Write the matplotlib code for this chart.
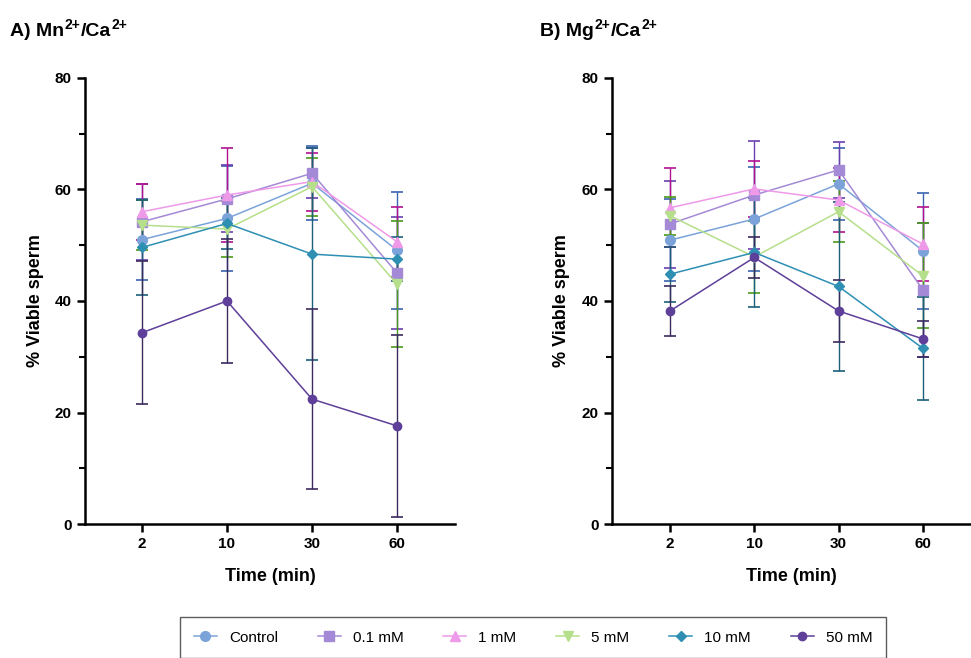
import matplotlib
matplotlib.use("Agg")
import matplotlib.pyplot as plt
from matplotlib.ticker import MultipleLocator

plt.rcParams["font.family"] = ["Liberation Sans", "DejaVu Sans"]

times = ["2", "10", "30", "60"]
groups = ["Control", "0.1 mM", "1 mM", "5 mM", "10 mM", "50 mM"]

# panel A: Mn2+/Ca2+
mn_mean = {
    "Control": [51.0, 54.8, 61.1, 49.1],
    "0.1 mM": [54.2, 58.3, 62.9, 45.0],
    "1 mM": [56.0, 59.0, 61.4, 50.6],
    "5 mM": [53.6, 52.9, 60.5, 43.0],
    "10 mM": [49.6, 53.9, 48.4, 47.5],
    "50 mM": [34.3, 40.0, 22.4, 17.6],
}
mn_sd = {
    "Control": [7.2, 9.4, 6.6, 10.5],
    "0.1 mM": [6.8, 6.0, 4.5, 10.0],
    "1 mM": [5.0, 8.4, 5.2, 6.3],
    "5 mM": [4.5, 5.0, 5.2, 11.3],
    "10 mM": [8.5, 4.5, 19.0, 4.0],
    "50 mM": [12.8, 11.2, 16.1, 16.3],
}

# panel B: Mg2+/Ca2+
mg_mean = {
    "Control": [50.9, 54.7, 61.0, 49.0],
    "0.1 mM": [53.8, 59.0, 63.5, 42.0],
    "1 mM": [56.7, 60.1, 58.1, 50.2],
    "5 mM": [55.3, 47.9, 56.0, 44.5],
    "10 mM": [44.8, 48.7, 42.6, 31.5],
    "50 mM": [38.2, 47.8, 38.2, 33.2],
}
mg_sd = {
    "Control": [7.3, 9.3, 6.4, 10.4],
    "0.1 mM": [7.8, 9.6, 5.0, 12.0],
    "1 mM": [7.1, 5.0, 5.8, 6.7],
    "5 mM": [3.4, 6.5, 5.5, 9.4],
    "10 mM": [4.9, 9.7, 15.1, 9.2],
    "50 mM": [4.5, 3.7, 5.5, 3.2],
}

colors = {
    "Control": "#7ba3d9",
    "0.1 mM": "#a48ad6",
    "1 mM": "#ee9ae8",
    "5 mM": "#b5df8a",
    "10 mM": "#2e8fb3",
    "50 mM": "#5e3f99",
}
err_colors = {
    "Control": "#3a64b0",
    "0.1 mM": "#6a3fb0",
    "1 mM": "#b0128f",
    "5 mM": "#4a9a1a",
    "10 mM": "#1b5f7a",
    "50 mM": "#3b2a5e",
}
markers = {"Control": "o", "0.1 mM": "s", "1 mM": "^", "5 mM": "v", "10 mM": "D", "50 mM": "o"}
msizes = {"Control": 7, "0.1 mM": 7, "1 mM": 7, "5 mM": 7, "10 mM": 5, "50 mM": 6}


def draw(ax, means, sds, xlim):
    x = list(range(len(times)))
    handles = []
    for g in groups:
        ax.errorbar(x, means[g], yerr=sds[g], fmt="none", ecolor=err_colors[g],
                    elinewidth=1, capsize=4, capthick=1.2, zorder=2)
        h, = ax.plot(x, means[g], color=colors[g], marker=markers[g], ms=msizes[g],
                     lw=1.1, zorder=3, label=g)
        handles.append(h)
    ax.set_xlim(*xlim)
    ax.set_ylim(0, 80)
    ax.set_xticks(x)
    ax.set_xticklabels(times)
    ax.yaxis.set_major_locator(MultipleLocator(20))
    ax.yaxis.set_minor_locator(MultipleLocator(10))
    for s in ["top", "right"]:
        ax.spines[s].set_visible(False)
    for s in ["left", "bottom"]:
        ax.spines[s].set_linewidth(1.8)
    ax.tick_params(axis="both", which="major", direction="out", length=6, width=1.8,
                   labelsize=11)
    ax.tick_params(axis="y", which="minor", direction="out", length=4, width=1.5)
    for lbl in ax.get_xticklabels() + ax.get_yticklabels():
        lbl.set_fontweight("bold")
    ax.set_xlabel("Time (min)", fontsize=13, fontweight="bold", labelpad=12)
    ax.set_ylabel("% Viable sperm", fontsize=13, fontweight="bold", labelpad=8)
    return handles


def ion_title(fig, x, y, pieces):
    # alternate normal / superscript pieces on a shared baseline
    renderer = fig.canvas.get_renderer()
    W, H = fig.bbox.width, fig.bbox.height
    for i, p in enumerate(pieces):
        sup = i % 2 == 1
        t = fig.text(x, y + (7.5 / H if sup else 0), p, fontsize=10 if sup else 14,
                     fontweight="bold", va="baseline")
        bb = t.get_window_extent(renderer)
        x = bb.x1 / W + 0.5 / W


fig = plt.figure(figsize=(9.71, 6.58), dpi=100)
axA = fig.add_axes([0.0875, 0.2036, 0.381, 0.678])
axB = fig.add_axes([0.630, 0.2036, 0.370, 0.678])

handles = draw(axA, mn_mean, mn_sd, (-0.67, 3.68))
draw(axB, mg_mean, mg_sd, (-0.69, 3.57))

ion_title(fig, 0.01, 0.945, ["A) Mn", "2+", "/Ca", "2+"])
ion_title(fig, 0.556, 0.945, ["B) Mg", "2+", "/Ca", "2+"])

leg = fig.legend(handles=handles, loc="lower center", bbox_to_anchor=(0.549, -0.012),
                 ncol=6, frameon=True, fancybox=False, fontsize=11, handlelength=1.5,
                 columnspacing=2.6, borderpad=0.9, handletextpad=0.8)
leg.get_frame().set_edgecolor("#333333")
leg.get_frame().set_linewidth(1.0)

fig.savefig("out.png", dpi=100)
